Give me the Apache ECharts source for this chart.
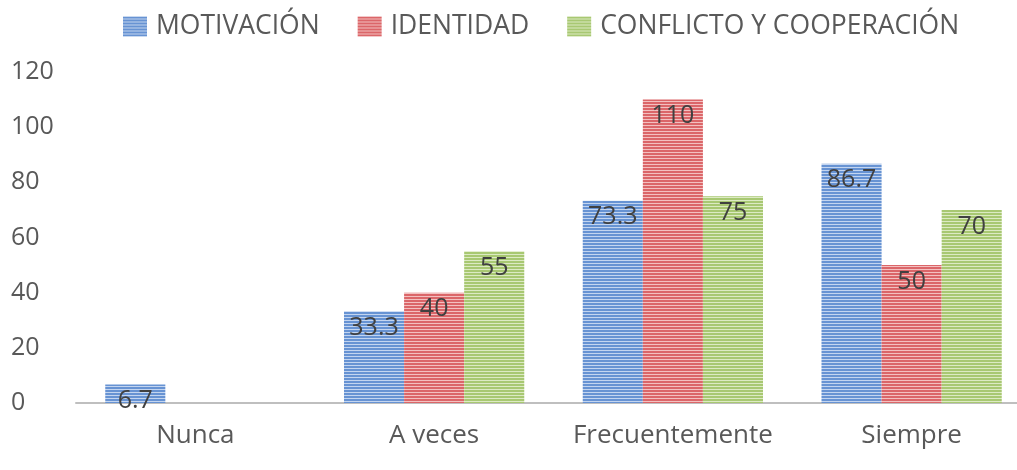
<!DOCTYPE html>
<html><head><meta charset="utf-8">
<script src="https://cdn.jsdelivr.net/npm/echarts@6/dist/echarts.min.js"></script>
<style>html,body{margin:0;padding:0;background:#fff;overflow:hidden}#c{width:1031px;height:470px}</style>
</head><body><div id="c"></div>
<script>
const categories = ['Nunca', 'A veces', 'Frecuentemente', 'Siempre'];
const seriesNames = ['MOTIVACIÓN', 'IDENTIDAD', 'CONFLICTO Y COOPERACIÓN'];
const motivacion = [6.7, 33.3, 73.3, 86.7];
const identidad = [null, 40, 110, 50];
const conflicto = [null, 55, 75, 70];
const yTicks = [0, 20, 40, 60, 80, 100, 120];

function stripe(dark, light) {
  const c = document.createElement('canvas');
  c.width = 4; c.height = 3;
  const g = c.getContext('2d');
  g.fillStyle = dark; g.fillRect(0, 0, 4, 3);
  g.fillStyle = light; g.fillRect(0, 2, 4, 1);
  return { image: c, repeat: 'repeat' };
}
const fills = [
  stripe('#6793d3', '#c3d5f0'),
  stripe('#db6669', '#f3c0c0'),
  stripe('#a8c872', '#dceac3')
];
const font = '"Open Sans", "DejaVu Sans", sans-serif';
const chart = echarts.init(document.getElementById('c'));
const data = [motivacion, identidad, conflicto];
chart.setOption({
  animation: false,
  textStyle: { fontFamily: font },
  legend: {
    top: 8, left: 118,
    itemWidth: 24, itemHeight: 20, itemGap: 38,
    textStyle: { fontSize: 26.5, color: '#595959', fontFamily: font, padding: [0, 0, 0, 4] },
    data: seriesNames.map((n, i) => ({ name: n, icon: 'rect', itemStyle: { color: fills[i] } }))
  },
  grid: { left: 76, right: 0, top: 72, bottom: 67, containLabel: false },
  xAxis: {
    type: 'category', data: categories,
    axisLine: { lineStyle: { color: '#bfbfbf', width: 2 } },
    axisTick: { show: false },
    axisLabel: { color: '#595959', fontSize: 26, margin: 20, interval: 0, fontFamily: font }
  },
  yAxis: {
    type: 'value', min: yTicks[0], max: yTicks[yTicks.length - 1], interval: 20,
    axisLine: { show: false }, axisTick: { show: false }, splitLine: { show: false },
    axisLabel: { color: '#595959', fontSize: 25, align: 'left', margin: 65, fontFamily: font }
  },
  series: seriesNames.map((n, i) => ({
    name: n, type: 'bar', data: data[i],
    barGap: '0%', barCategoryGap: '24.5%',
    itemStyle: { color: fills[i] },
    label: {
      show: true, position: 'insideTop', distance: 4,
      color: '#404040', fontSize: 25, fontFamily: font
    }
  }))
});
</script></body></html>
